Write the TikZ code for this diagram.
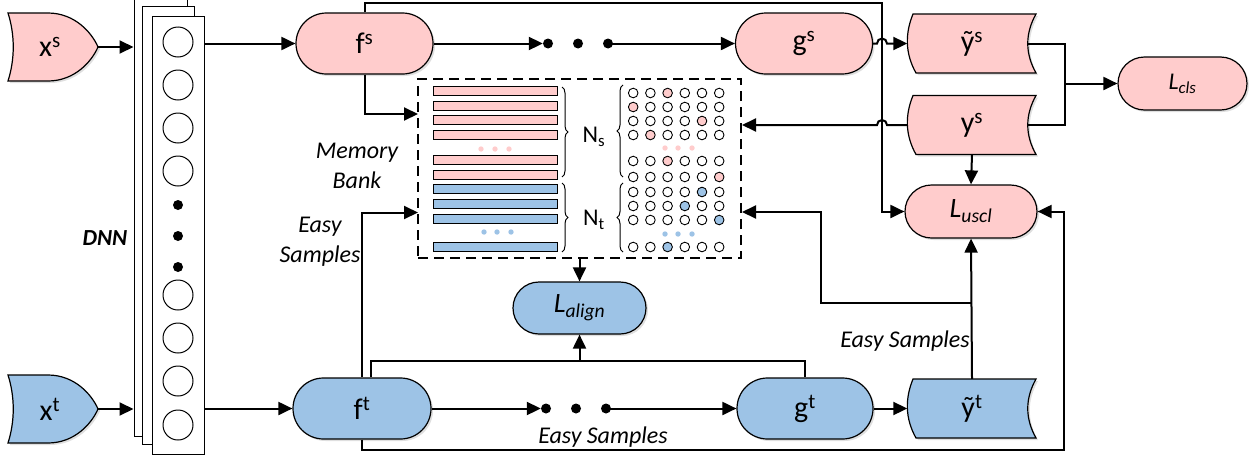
\documentclass[tikz,border=0pt]{standalone}
\usepackage{fontspec}
\setmainfont{Carlito}
\usetikzlibrary{arrows.meta,shapes.misc,decorations.pathreplacing,calc,shadows}
\definecolor{pinkc}{RGB}{255,204,204}
\definecolor{bluec}{RGB}{157,195,230}
% display shape (input): #1 centre y, #2 colour
\newcommand{\dispshape}[2]{%
  \filldraw[fill=#2, line width=1.2pt, shd] (8,#1-34) -- (48,#1-34) .. controls (75,#1-34) and (92,#1-14) .. (98,#1)
    .. controls (92,#1+14) and (75,#1+34) .. (48,#1+34) -- (8,#1+34) .. controls (15,#1+12) and (15,#1-12) .. cycle;}
% stored-data shape: #1 cx, #2 cy, #3 colour
\newcommand{\sdshape}[3]{%
  \filldraw[fill=#3, line width=1.2pt, shd] (#1-59,#2-29.5) -- (#1+64,#2-29.5) .. controls (#1+53,#2-10) and (#1+53,#2+10) .. (#1+64,#2+29.5)
    -- (#1-56,#2+29.5) .. controls (#1-67,#2+10) and (#1-67,#2-10) .. cycle;}
\begin{document}
\begin{tikzpicture}[x=1pt,y=-1pt,
  shd/.style={drop shadow={opacity=0.25,shadow xshift=2pt,shadow yshift=-2pt}},
  lab/.style={font=\fontsize{30}{36}\selectfont, inner sep=0},
  pill/.style={draw, line width=1.2pt, rounded rectangle, inner sep=0, shd, minimum height=61, minimum width=137, font=\fontsize{30}{36}\selectfont},
  loss/.style={pill, minimum height=53, font=\fontsize{28}{34}\selectfont\itshape},
  sdtext/.style={lab, minimum width=129, minimum height=59},
  stackbox/.style={draw, fill=white, line width=1pt, inner sep=0},
  neuron/.style={draw, fill=white, circle, line width=1pt, minimum size=30, inner sep=0},
  bigdot/.style={fill=black, circle, minimum size=10, inner sep=0},
  conn/.style={line width=2pt, -{Triangle[length=14pt,width=13pt]}},
  plain/.style={line width=2pt},
  note/.style={font=\fontsize{24}{30}\selectfont\itshape, inner sep=0},
  bar/.style={line width=1pt},
  brc/.style={decorate, decoration={brace, amplitude=6pt}, line width=1pt},
]
\useasboundingbox (0,0) rectangle (1257,461);

% inputs
\dispshape{47}{pinkc}
\dispshape{409}{bluec}
\node[lab] (xs) at (50,47) {x\textsuperscript{s}};
\node[lab] (xt) at (50,409) {x\textsuperscript{t}};
\coordinate (xstip) at (98,47);
\coordinate (xttip) at (98,409);

% DNN stack
\node[stackbox, minimum width=53, minimum height=441] (back) at (160.5,215.5) {};
\node[stackbox, minimum width=52, minimum height=438] (mid) at (168,225) {};
\node[stackbox, minimum width=52, minimum height=438] (front) at (178,235) {};
\foreach \y [count=\i] in {42,85,128,171,295,338,381,425}
  \node[neuron] (n\i) at (178,\y) {};
\foreach \y [count=\i] in {205,236,267}
  \node[bigdot] (sd\i) at (178,\y) {};
\node[font=\fontsize{23}{28}\selectfont\bfseries\itshape] (dnn) at (105,238) {DNN};

% feature / classifier nodes
\node[pill, fill=pinkc] (fs) at (364.5,43.5) {f\textsuperscript{s}};
\node[pill, fill=bluec, minimum width=138] (ft) at (362,408.5) {f\textsuperscript{t}};
\node[pill, fill=pinkc] (gs) at (804,43.5) {g\textsuperscript{s}};
\node[pill, fill=bluec, minimum width=136] (gt) at (805,408.5) {g\textsuperscript{t}};
\node[bigdot] (d1s) at (548,43.5) {};
\node[bigdot] (d2s) at (578,43.5) {};
\node[bigdot] (d3s) at (608,43.5) {};
\node[bigdot] (d1t) at (546,408.5) {};
\node[bigdot] (d2t) at (576,408.5) {};
\node[bigdot] (d3t) at (606,408.5) {};

% outputs
\sdshape{972}{43.5}{pinkc}
\sdshape{972}{125}{pinkc}
\sdshape{972}{408.5}{bluec}
\node[sdtext] (ys1) at (972,43.5) {ỹ\textsuperscript{s}};
\node[sdtext] (ys2) at (972,125) {y\textsuperscript{s}};
\node[sdtext] (yt) at (972,408.5) {ỹ\textsuperscript{t}};

% losses
\node[loss, fill=pinkc, minimum width=129, font=\fontsize{24}{30}\selectfont\itshape] (lcls) at (1182.5,83.5) {L\textsubscript{cls}};
\node[loss, fill=pinkc, minimum width=132] (luscl) at (971,211.5) {L\textsubscript{uscl}};
\node[loss, fill=bluec, minimum width=133, minimum height=52] (lalign) at (579.5,308) {L\textsubscript{align}};

% memory bank
\node[draw, dashed, dash pattern=on 10pt off 6pt, line width=2pt, minimum width=323, minimum height=179, inner sep=0] (bank) at (579.5,168.5) {};
\foreach \y in {91,106,120,135,160,175}
  \filldraw[bar, fill=pinkc] (433,\y-4.5) rectangle (557,\y+4.5);
\foreach \y in {189,204,219,247}
  \filldraw[bar, fill=bluec] (433,\y-4.5) rectangle (557,\y+4.5);
\foreach \x in {481,495,509} \fill[pinkc] (\x,149) circle[radius=2.7];
\foreach \x in {484,497,511} \fill[bluec] (\x,232) circle[radius=2.7];
\foreach \x in {665,678,692} \fill[pinkc] (\x,148) circle[radius=2.7];
\foreach \x in {665,678,692} \fill[bluec] (\x,234) circle[radius=2.7];
\draw[brc] (562,87) -- (562,177);
\draw[brc] (562,183) -- (562,252);
\draw[brc] (623,177) -- (623,85);
\draw[brc] (623,252) -- (623,183);
\node[font=\fontsize{24}{30}\selectfont] (ns) at (594,137) {N\textsubscript{s}};
\node[font=\fontsize{24}{30}\selectfont] (nt) at (594,220) {N\textsubscript{t}};
\foreach \y/\k/\c in {93/3/pinkc,107/1/pinkc,121/5/pinkc,135/2/pinkc,161/3/pinkc,177/6/pinkc,192/5/bluec,206/4/bluec,220/6/bluec,247/3/bluec}{
  \foreach \i in {1,...,6}{
    \ifnum\i=\k\relax\def\fc{\c}\else\def\fc{white}\fi
    \filldraw[fill=\fc, line width=0.9pt] (616+17.2*\i,\y) circle[radius=4.8];
  }
}

% labels
\node[note, align=center] (mb) at (357,166) {Memory\\Bank};
\node[note, align=center] (es1) at (320,242) {Easy\\Samples};
\node[note] (es2) at (603,437) {Easy Samples};
\node[note, anchor=east] (es3) at (970,341) {Easy Samples};

% helper coordinates
\coordinate (jn) at (1065,83.5);
\coordinate (topR) at (882,3);
\coordinate (bkin1) at (418,114);
\coordinate (bkin2) at (418,212.5);
\coordinate (jal) at (579.5,361);
\coordinate (jbr) at (1064,450);
\coordinate (jes) at (972,303);
\coordinate (jbk) at (821,212);

% connectors
\draw[conn] (xstip) -- (back.west |- xstip);
\draw[conn] (xttip) -- (back.west |- xttip);
\draw[conn] (front.east |- fs) -- (fs.west);
\draw[conn] (front.east |- ft) -- (ft.west);
\draw[conn] (fs.east) -- (d1s.west);
\draw[conn] (d3s.center) -- (gs.west);
\draw[conn] (ft.east) -- (d1t.west);
\draw[conn] (d3t.center) -- (gt.west);
\draw[conn] (gs.east) -- (877,43.5) arc[start angle=180,end angle=360,radius=5] -- (ys1.west);
\draw[plain] ($(ys1.east)+(-8.5,0)$) -| (jn) |- ($(ys2.east)+(-8.5,0)$);
\draw[conn] (jn) -- (lcls.west);
\draw[conn] (ys2.west) -- (887,125) arc[start angle=0,end angle=-180,radius=5] -- (bank.east |- ys2);
\draw[conn] (fs.north) |- (topR) |- (luscl.west);
\draw[conn] (fs.south) |- (bkin1);
\draw[conn] (ft.north) |- (bkin2);
\draw[plain] ($(ft.north)+(9,0)$) |- (jal) -| (gt.north);
\draw[conn] (jal) -- (lalign.south);
\draw[conn] (bank.south) -- (lalign.north);
\draw[conn] (ft.south) |- (jbr) |- (luscl.east);
\draw[conn] (yt.north) -- (luscl.south);
\draw[conn] (jes) -| (jbk) -- (bank.east |- jbk);
\draw[conn] (gt.east) -- (yt.west);
\draw[conn] (ys2.south) -- (luscl.north);
\end{tikzpicture}
\end{document}
